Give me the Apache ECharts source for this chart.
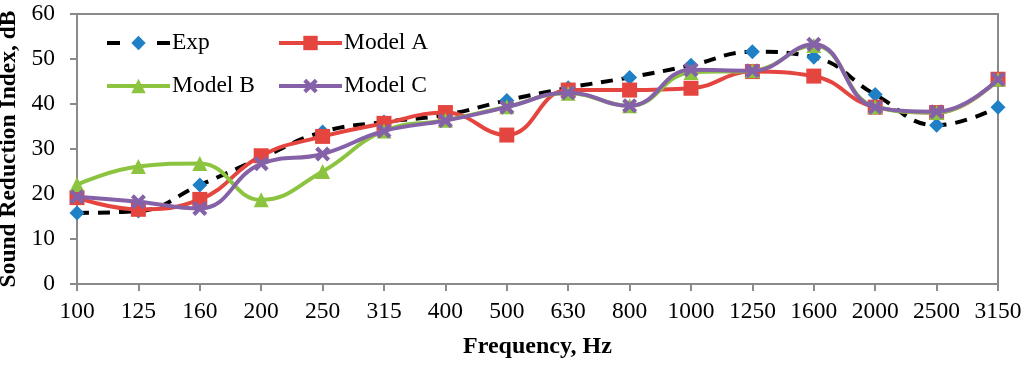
<!DOCTYPE html>
<html>
<head>
<meta charset="utf-8">
<script src="https://cdn.jsdelivr.net/npm/echarts@6/dist/echarts.min.js"></script>
<style>
html,body{margin:0;padding:0;background:#fff;}
#c{width:1024px;height:365px;}
</style>
</head>
<body>
<div id="c"></div>
<script>
const categories = ['100','125','160','200','250','315','400','500','630','800','1000','1250','1600','2000','2500','3150'];
const expData    = [15.8, 16.2, 22.0, 28.0, 33.8, 36.0, 37.6, 40.8, 43.6, 45.9, 48.6, 51.6, 50.4, 42.1, 35.3, 39.3];
const modelA     = [19.2, 16.6, 18.8, 28.5, 32.8, 35.7, 38.1, 33.1, 43.1, 43.1, 43.5, 47.2, 46.2, 39.3, 38.1, 45.5];
const modelB     = [22.1, 26.1, 26.8, 18.7, 25.0, 34.0, 36.4, 39.4, 42.4, 39.6, 47.0, 47.4, 53.0, 39.4, 38.1, 45.5];
const modelC     = [19.4, 18.3, 16.8, 26.7, 28.9, 34.0, 36.3, 39.3, 42.5, 39.6, 47.6, 47.4, 53.3, 39.3, 38.3, 45.5];
const seriesNames = ['Exp', 'Model A', 'Model B', 'Model C'];

const FONT = '"Liberation Serif", "Times New Roman", serif';
const crossPath = 'path://M2,0 L5,3 L8,0 L10,2 L7,5 L10,8 L8,10 L5,7 L2,10 L0,8 L3,5 L0,2 Z';

const chart = echarts.init(document.getElementById('c'), null, {renderer: 'canvas'});
const legendBase = {
  orient: 'vertical',
  top: 26,
  itemWidth: 63,
  itemHeight: 18,
  itemGap: 19,
  lineStyle: {width: 4},
  textStyle: {fontFamily: FONT, fontSize: 23.5, color: '#000', padding: [0,0,0,-3]},
  inactiveColor: '#ccc'
};
chart.setOption({
  animation: false,
  backgroundColor: '#fff',
  grid: {left: 77, right: 26, top: 14, bottom: 81, show: true, borderColor: '#8a8a8a', borderWidth: 2, containLabel: false, outerBoundsMode: 'none'},
  legend: [
    Object.assign({}, legendBase, {left: 100, data: [
      {name: seriesNames[0], lineStyle: {type: [13, 37], width: 4}},
      seriesNames[2]
    ]}),
    Object.assign({}, legendBase, {left: 272, data: [seriesNames[1], seriesNames[3]]})
  ],
  xAxis: {
    type: 'category',
    data: categories,
    boundaryGap: false,
    name: 'Frequency, Hz',
    nameLocation: 'middle',
    nameGap: 51,
    nameTextStyle: {fontFamily: FONT, fontSize: 24, fontWeight: 'bold', color: '#000'},
    axisLine: {lineStyle: {color: '#8a8a8a', width: 2}},
    axisTick: {show: true, length: 7, interval: 0, lineStyle: {color: '#8a8a8a', width: 2}},
    axisLabel: {fontFamily: FONT, fontSize: 23.5, color: '#000', margin: 16, interval: 0, hideOverlap: false},
    splitLine: {show: false}
  },
  yAxis: {
    type: 'value',
    min: 0, max: 60, interval: 10,
    name: 'Sound Reduction Index, dB',
    nameLocation: 'middle',
    nameGap: 50,
    nameTextStyle: {fontFamily: FONT, fontSize: 23.5, fontWeight: 'bold', color: '#000'},
    axisLine: {show: true, lineStyle: {color: '#8a8a8a', width: 2}},
    axisTick: {show: true, length: 7, lineStyle: {color: '#8a8a8a', width: 2}},
    axisLabel: {fontFamily: FONT, fontSize: 23.5, color: '#000', margin: 22},
    splitLine: {show: false}
  },
  series: [
    {
      name: seriesNames[0], type: 'line', data: expData, smooth: 0.45,
      symbol: 'diamond', symbolSize: 15,
      itemStyle: {color: '#1f80c6'},
      lineStyle: {color: '#000', width: 4, type: [12, 9]},
      z: 2
    },
    {
      name: seriesNames[1], type: 'line', data: modelA, smooth: 0.45,
      symbol: 'rect', symbolSize: 15,
      itemStyle: {color: '#e4463f'},
      lineStyle: {color: '#e4463f', width: 4},
      z: 3
    },
    {
      name: seriesNames[2], type: 'line', data: modelB, smooth: 0.45,
      symbol: 'triangle', symbolSize: 15,
      itemStyle: {color: '#8cc43f'},
      lineStyle: {color: '#8cc43f', width: 4},
      z: 4
    },
    {
      name: seriesNames[3], type: 'line', data: modelC, smooth: 0.45,
      symbol: crossPath, symbolSize: 15,
      itemStyle: {color: '#8562a8'},
      lineStyle: {color: '#8562a8', width: 4},
      z: 5
    }
  ]
});
</script>
</body>
</html>
